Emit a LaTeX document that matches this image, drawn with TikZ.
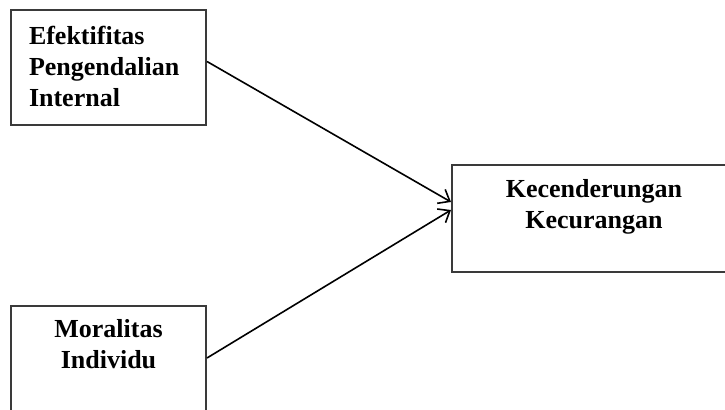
\documentclass[tikz,border=0pt]{standalone}
\usepackage{fontspec}
\setmainfont{Liberation Serif}
\usetikzlibrary{arrows.meta}
\definecolor{frame}{HTML}{3A3A3A}
\tikzset{box/.style={draw=frame,line width=1pt,font=\bfseries\fontsize{13pt}{15.5pt}\selectfont,text height=9pt,inner xsep=4pt},arr/.style={-{Straight Barb[length=5pt,width=8pt]},line width=0.8pt}}

\begin{document}
\begin{tikzpicture}[x=0.5pt,y=-0.5pt]
\clip (0,0) rectangle (725,410);
\node[box,anchor=north west,text width=79.5pt,align=left,inner xsep=9pt,inner ysep=8.5pt,text depth=31.5pt] (eff) at (10,9) {Efektifitas\\Pengendalian\\Internal};
\node[box,anchor=north west,text width=134pt,align=center,inner ysep=7.5pt,text depth=29.5pt] (kec) at (451,164) {Kecenderungan\\Kecurangan};
\node[box,anchor=north west,text width=89.5pt,align=center,inner ysep=7pt,text depth=60pt] (mor) at (10,305) {Moralitas\\Individu};
\draw[arr]([yshift=3pt]eff.east)--([yshift=-19pt]kec.north west);
\draw[arr]([yshift=-26.5pt]mor.north east)--([yshift=-23pt]kec.north west);
\end{tikzpicture}
\end{document}
